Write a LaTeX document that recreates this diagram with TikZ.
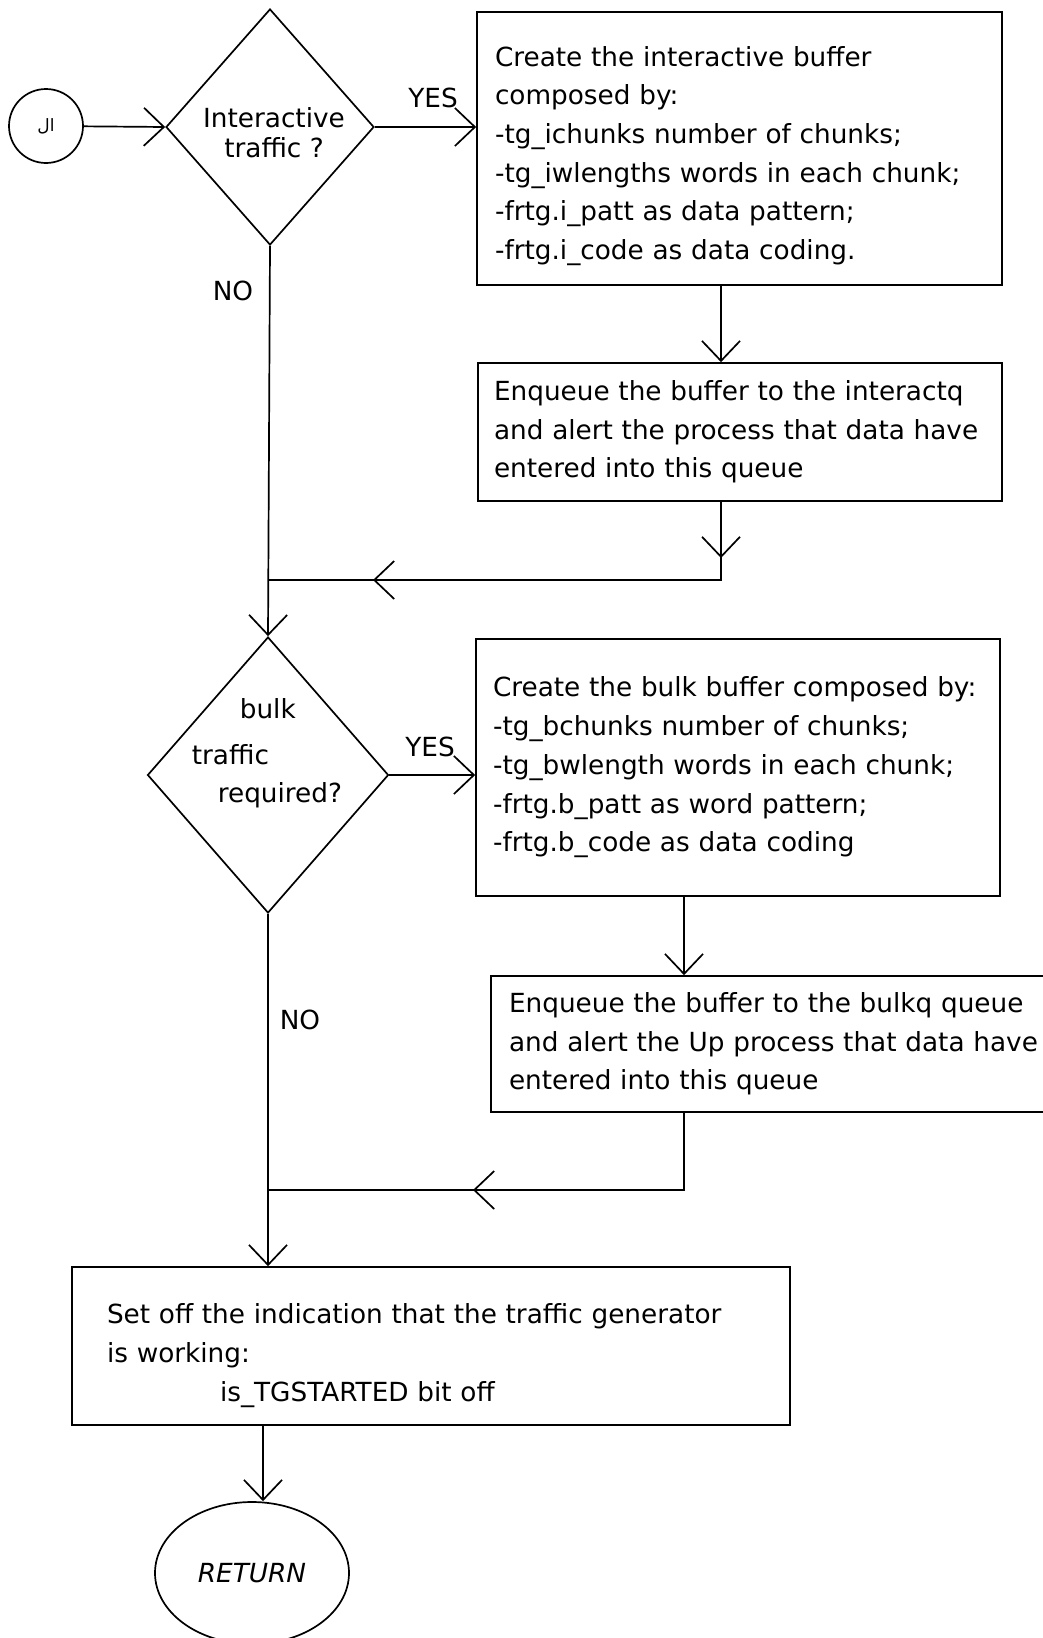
\documentclass[tikz,border=0pt]{standalone}
\usepackage{fontspec}
\setmainfont{DejaVu Sans}
\newfontfamily\arabicfont[Script=Arabic]{DejaVu Sans}
\TeXXeTstate=1
\usetikzlibrary{shapes.geometric,arrows.meta,calc}

\begin{document}
\begin{tikzpicture}[x=1pt,y=-1pt,
  line width=1.7pt,
  every node/.style={font=\fontsize{26.3}{38.7}\selectfont},
  flow/.style={-{Straight Barb[length=20pt,width=38pt]}},
  decision/.style={draw,diamond,inner sep=0pt},
  stepbox/.style={draw,rectangle,inner ysep=0pt,align=left},
  lbl/.style={inner sep=0pt}]

\useasboundingbox (0,0) rectangle (1043,1638);
\fill[white] (0,0) rectangle (1043,1638);
\clip (0,0) rectangle (1043,1638);

% entry connector
\node[draw,circle,minimum size=74pt,inner sep=0pt] (start) at (46,126)
  {\arabicfont\fontsize{17}{17}\selectfont\beginR ال\endR};

% first decision
\node[decision,minimum width=208pt,minimum height=236pt] (d1) at (270,127) {};
\node[lbl,align=center,font=\fontsize{26.3}{30}\selectfont] (q1) at (274,133)
  {Interactive\\traffic ?};

% interactive branch
\node[stepbox,minimum width=525pt,minimum height=273pt,text width=489pt,inner xsep=18pt]
  (b1) at (739.5,148.5)
  {\rule{0pt}{35pt}Create the interactive buffer\\
   composed by:\\
   -tg\_ichunks number of chunks;\\
   \mbox{-tg\_iwlengths words in each chunk;}\\
   -frtg.i\_patt as data pattern;\\
   -frtg.i\_code as data coding.};

\node[stepbox,minimum width=524pt,minimum height=138pt,text width=492pt,inner xsep=16pt]
  (b2) at (740,432)
  {Enqueue the buffer to the interactq\\
   \mbox{and alert the process that data have}\\
   entered into this queue};

% second decision
\node[decision,minimum width=241pt,minimum height=276pt] (d2) at (268,775) {};
\node[lbl,anchor=west] (q2a) at (239,709) {bulk};
\node[lbl,anchor=west] (q2b) at (191,755) {traffic};
\node[lbl,anchor=west] (q2c) at (217,795) {required?};

% bulk branch
\node[stepbox,minimum width=524pt,minimum height=257pt,text width=490pt,inner xsep=17pt]
  (b3) at (738,767.5)
  {\mbox{Create the bulk buffer composed by:}\\
   -tg\_bchunks number of chunks;\\
   \mbox{-tg\_bwlength words in each chunk;}\\
   -frtg.b\_patt as word pattern;\\
   -frtg.b\_code as data coding};

\node[stepbox,minimum width=609pt,minimum height=136pt,text width=573pt,inner xsep=18pt]
  (b4) at (795.5,1044)
  {Enqueue the buffer to the bulkq queue\\
   \mbox{and alert the Up process that data have}\\
   entered into this queue};

% final step and exit
\node[stepbox,minimum width=718pt,minimum height=158pt,text width=648pt,inner xsep=35pt]
  (b5) at (431,1346)
  {\rule{0pt}{39pt}\mbox{Set off the indication that the traffic generator}\\
   is working:\\
   \hspace*{113pt}is\_TGSTARTED bit off};

\node[draw,ellipse,minimum width=194pt,minimum height=142pt,inner sep=0pt,
      font=\itshape\fontsize{26.3}{26.3}\selectfont] (ret) at (252,1573) {RETURN};

% branch labels
\node[lbl] (yes1) at (433,98) {YES};
\node[lbl] (no1) at (233,291) {NO};
\node[lbl] (yes2) at (430,747) {YES};
\node[lbl] (no2) at (300,1020) {NO};

% routing points
\coordinate (c1) at (721,0);
\coordinate (k1) at (721,580);
\coordinate (j1) at (268,580);
\coordinate (c2) at (684,0);
\coordinate (k2) at (684,1190);
\coordinate (j2) at (267,1190);
\coordinate (c3) at (263,0);

% connectors
\draw[flow] (start) -- (d1.west);
\draw[flow] (d1.east) -- (d1.east -| b1.west);
\draw[flow] (b1.south -| c1) -- (b2.north -| c1);
\draw (b2.south -| c1) -- (k1) -- (j1);
\draw[flow] (b2.south -| c1) -- ($(k1)+(0,-22)$);
\draw[flow] (k1) -- ($(j1)+(105,0)$);
\draw[flow] (d1.south) -- (d2.north);
\draw[flow] (d2.east) -- (d2.east -| b3.west);
\draw[flow] (b3.south -| c2) -- (b4.north -| c2);
\draw (b4.south -| c2) -- (k2) -- (j2);
\draw[flow] (k2) -- ($(j2)+(206,0)$);
\draw[flow] (d2.south) -- (d2.south |- b5.north);
\draw[flow] (b5.south -| c3) -- (ret.north -| c3);

\end{tikzpicture}
\end{document}
